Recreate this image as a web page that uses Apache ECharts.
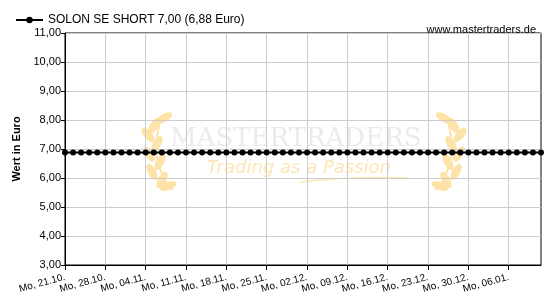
<!DOCTYPE html>
<html><head><meta charset="utf-8">
<script src="https://cdn.jsdelivr.net/npm/echarts@6/dist/echarts.min.js"></script>
<style>html,body{margin:0;padding:0;background:#fff}#c{width:550px;height:300px}</style>
</head><body><div id="c"></div>
<script>
var seriesName = 'SOLON SE SHORT 7,00 (6,88 Euro)';
var categories = [
 'Mo, 21.10.','Di, 22.10.','Mi, 23.10.','Do, 24.10.','Fr, 25.10.',
 'Mo, 28.10.','Di, 29.10.','Mi, 30.10.','Do, 31.10.','Fr, 01.11.',
 'Mo, 04.11.','Di, 05.11.','Mi, 06.11.','Do, 07.11.','Fr, 08.11.',
 'Mo, 11.11.','Di, 12.11.','Mi, 13.11.','Do, 14.11.','Fr, 15.11.',
 'Mo, 18.11.','Di, 19.11.','Mi, 20.11.','Do, 21.11.','Fr, 22.11.',
 'Mo, 25.11.','Di, 26.11.','Mi, 27.11.','Do, 28.11.','Fr, 29.11.',
 'Mo, 02.12.','Di, 03.12.','Mi, 04.12.','Do, 05.12.','Fr, 06.12.',
 'Mo, 09.12.','Di, 10.12.','Mi, 11.12.','Do, 12.12.','Fr, 13.12.',
 'Mo, 16.12.','Di, 17.12.','Mi, 18.12.','Do, 19.12.','Fr, 20.12.',
 'Mo, 23.12.','Di, 24.12.','Mi, 25.12.','Do, 26.12.','Fr, 27.12.',
 'Mo, 30.12.','Di, 31.12.','Mi, 01.01.','Do, 02.01.','Fr, 03.01.',
 'Mo, 06.01.','Di, 07.01.','Mi, 08.01.','Do, 09.01.','Fr, 10.01.'
];
var values = [
 6.88,6.88,6.88,6.88,6.88, 6.88,6.88,6.88,6.88,6.88,
 6.88,6.88,6.88,6.88,6.88, 6.88,6.88,6.88,6.88,6.88,
 6.88,6.88,6.88,6.88,6.88, 6.88,6.88,6.88,6.88,6.88,
 6.88,6.88,6.88,6.88,6.88, 6.88,6.88,6.88,6.88,6.88,
 6.88,6.88,6.88,6.88,6.88, 6.88,6.88,6.88,6.88,6.88,
 6.88,6.88,6.88,6.88,6.88, 6.88,6.88,6.88,6.88,6.88
];
var yMin = 3, yMax = 11, yStep = 1;

var leafColor = '#fde3a8';
function laurel(x0, flip) {
  // decorative laurel branch made of leaves (watermark)
  var leaves = [
    [20, 70, -30], [10, 62, 30],
    [18, 52, -30], [7, 44, 35],
    [15, 34, -30], [6, 25, 40],
    [12, 16, -30], [22, 8, -60],
    [26, 76, -70]
  ];
  var children = [{
    type: 'bezierCurve', shape: {x1: 30, y1: 80, x2: 20, y2: 5, cpx1: 5, cpy1: 50},
    style: {stroke: leafColor, lineWidth: 2, fill: null}
  }];
  leaves.forEach(function (l) {
    children.push({
      type: 'group', x: l[0], y: l[1], rotation: l[2] * Math.PI / 180,
      children: [{type: 'circle', scaleX: 0.45, scaleY: 1, shape: {cx: 0, cy: 0, r: 9}, style: {fill: leafColor}}]
    });
  });
  return {type: 'group', x: x0, y: 110, scaleX: flip ? -1 : 1, silent: true, z: 0, children: children};
}

var chart = echarts.init(document.getElementById('c'));
var font = 'Liberation Sans, Arial, sans-serif';
chart.setOption({
  animation: false,
  textStyle: {fontFamily: font},
  title: {
    text: 'www.mastertraders.de', right: 9, top: 19,
    textStyle: {fontSize: 11, fontWeight: 'normal', color: '#000', fontFamily: font}
  },
  legend: {
    left: 10, top: 9, itemWidth: 27, itemHeight: 8, itemGap: 5,
    textStyle: {fontSize: 12, color: '#000', fontFamily: font},
    data: [seriesName]
  },
  graphic: [
    {type: 'text', left: 170, top: 126, z: 0, silent: true,
     style: {text: 'MASTERTRADERS', font: '26px "DejaVu Serif", serif', fill: '#ebebeb'}},
    {type: 'text', left: 207, top: 159, z: 0, silent: true,
     style: {text: 'Trading as a Passion', font: 'italic 18px "DejaVu Sans", sans-serif', fill: '#fde6b6'}},
    {type: 'bezierCurve', z: 0, silent: true,
     shape: {x1: 300, y1: 182, x2: 408, y2: 178, cpx1: 350, cpy1: 176},
     style: {stroke: '#fde6b6', lineWidth: 1.5, fill: null}},
    laurel(142, false),
    laurel(466, true)
  ],
  grid: {left: 65, right: 9, top: 33, bottom: 35, show: true, borderColor: '#000', borderWidth: 1, backgroundColor: 'transparent'},
  xAxis: {
    type: 'category', data: categories, boundaryGap: false,
    axisLine: {lineStyle: {color: '#000', width: 1}},
    axisTick: {show: true, interval: 4, length: 5, lineStyle: {color: '#000'}},
    axisLabel: {interval: 4, rotate: 15, fontSize: 10, color: '#000', margin: 12, fontFamily: font},
    splitLine: {show: true, interval: 4, lineStyle: {color: '#cccccc', width: 1}}
  },
  yAxis: {
    type: 'value', min: yMin, max: yMax, interval: yStep,
    name: 'Wert in Euro', nameLocation: 'middle', nameGap: 42, nameRotate: 90,
    nameTextStyle: {fontSize: 11, fontWeight: 'bold', color: '#000', fontFamily: font},
    axisLine: {show: true, lineStyle: {color: '#000', width: 1}},
    axisTick: {show: true, length: 4, lineStyle: {color: '#000'}},
    axisLabel: {fontSize: 11, color: '#000', margin: 4, fontFamily: font,
      formatter: function (v) { return v.toFixed(2).replace('.', ','); }},
    splitLine: {show: true, lineStyle: {color: '#cccccc', width: 1}}
  },
  series: [{
    name: seriesName, type: 'line', data: values,
    symbol: 'circle', symbolSize: 6, showAllSymbol: true,
    lineStyle: {color: '#000', width: 2},
    itemStyle: {color: '#000'},
    z: 5
  }]
});
</script>
</body></html>
